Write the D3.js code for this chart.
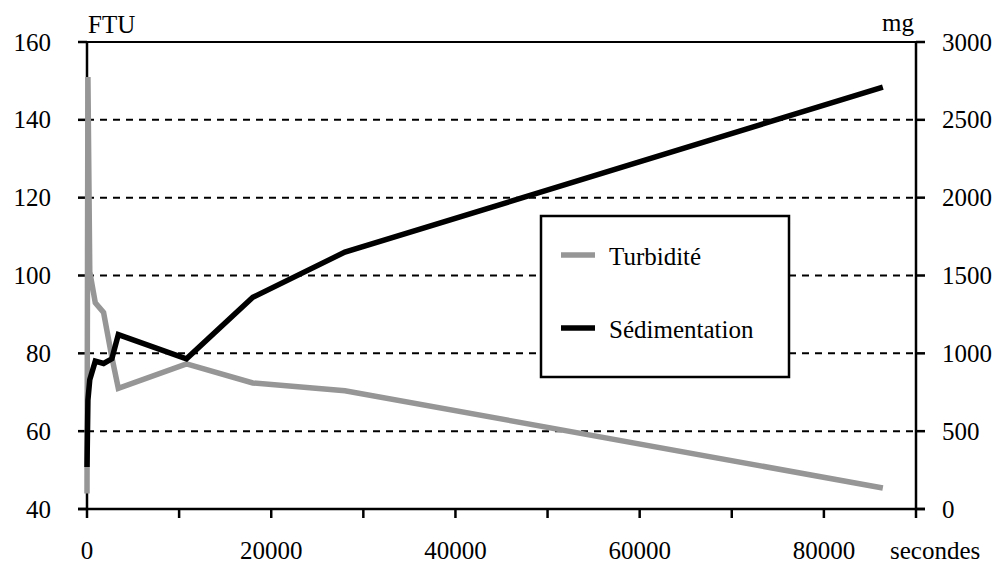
<!DOCTYPE html>
<html>
<head>
<meta charset="utf-8">
<script src="https://cdn.jsdelivr.net/npm/d3@7"></script>
<style>
  html, body { margin: 0; padding: 0; background: #fff; }
  svg { display: block; }
</style>
</head>
<body>
<svg id="chart" width="999" height="565"></svg>
<script>
// Time of each measurement (seconds)
const seconds = [0, 100, 300, 900, 1800, 2700, 3400, 10800, 18000, 28000, 86400];
// Turbidity (FTU, left axis)
const turbidite = [44, 151, 101, 93, 90.5, 79, 71, 77.3, 72.4, 70.4, 45.4];
// Cumulated sediment mass (mg, right axis)
const sedimentation = [270, 700, 830, 950, 935, 965, 1120, 965, 1360, 1650, 2710];

const xTicks = d3.range(0, 90001, 10000);
const xLabels = [0, 20000, 40000, 60000, 80000];
const leftTicks = [40, 60, 80, 100, 120, 140, 160];
const rightTicks = [0, 500, 1000, 1500, 2000, 2500, 3000];

const GRAY = "#969696";
const FONT = "'Liberation Serif', Tinos, 'Times New Roman', Times, 'DejaVu Serif', serif";
const svg = d3.select("#chart").attr("font-family", FONT);

const x = d3.scaleLinear().domain([0, 90000]).range([87, 916]);
const yL = d3.scaleLinear().domain([40, 160]).range([509, 42]);
const yR = d3.scaleLinear().domain([0, 3000]).range([509, 42]);

const fs = 25;

// dashed horizontal gridlines
svg.append("g").selectAll("line")
  .data(leftTicks.filter(v => v > 40 && v < 160))
  .join("line")
  .attr("x1", x(0)).attr("x2", x(90000))
  .attr("y1", d => yL(d)).attr("y2", d => yL(d))
  .attr("stroke", "#000").attr("stroke-width", 2)
  .attr("stroke-dasharray", "7,6");

// frame: top line, bottom axis, left and right axes
const frame = svg.append("g").attr("stroke", "#000").attr("stroke-width", 2.5);
frame.append("line").attr("x1", x(0) - 9).attr("x2", x(90000) + 9)
  .attr("y1", yL(160)).attr("y2", yL(160)).attr("stroke-width", 2);
frame.append("line").attr("x1", x(0) - 9).attr("x2", x(90000) + 9)
  .attr("y1", yL(40)).attr("y2", yL(40));
frame.append("line").attr("x1", x(0)).attr("x2", x(0))
  .attr("y1", yL(160)).attr("y2", yL(40));
frame.append("line").attr("x1", x(90000)).attr("x2", x(90000))
  .attr("y1", yL(160)).attr("y2", yL(40));

// left ticks and labels
frame.selectAll(".lt").data(leftTicks).join("line").attr("class", "lt")
  .attr("x1", x(0) - 9).attr("x2", x(0)).attr("y1", d => yL(d)).attr("y2", d => yL(d));
svg.append("g").selectAll("text").data(leftTicks).join("text")
  .attr("x", 51).attr("y", d => yL(d) + 8.5)
  .attr("text-anchor", "end").attr("font-size", fs)
  .text(d => d);

// right ticks and labels
frame.selectAll(".rt").data(rightTicks).join("line").attr("class", "rt")
  .attr("x1", x(90000)).attr("x2", x(90000) + 9).attr("y1", d => yR(d)).attr("y2", d => yR(d));
svg.append("g").selectAll("text").data(rightTicks).join("text")
  .attr("x", 942).attr("y", d => yR(d) + 8.5)
  .attr("text-anchor", "start").attr("font-size", fs)
  .text(d => d);

// bottom ticks and labels
frame.selectAll(".bt").data(xTicks).join("line").attr("class", "bt")
  .attr("x1", d => x(d)).attr("x2", d => x(d)).attr("y1", yL(40)).attr("y2", yL(40) + 9);
svg.append("g").selectAll("text").data(xLabels).join("text")
  .attr("x", d => x(d)).attr("y", 559)
  .attr("text-anchor", "middle").attr("font-size", fs)
  .text(d => d);
svg.append("text").attr("x", 890).attr("y", 559).attr("font-size", fs).text("secondes");

// unit labels
svg.append("text").attr("x", 88).attr("y", 33).attr("font-size", fs).text("FTU");
svg.append("text").attr("x", 914).attr("y", 31).attr("font-size", fs)
  .attr("text-anchor", "end").text("mg");

// series lines
const lineL = d3.line().x((d, i) => x(seconds[i])).y(d => yL(d));
const lineR = d3.line().x((d, i) => x(seconds[i])).y(d => yR(d));
svg.append("path").datum(turbidite).attr("d", lineL)
  .attr("fill", "none").attr("stroke", GRAY).attr("stroke-width", 5.5)
  .attr("stroke-linejoin", "miter");
svg.append("path").datum(sedimentation).attr("d", lineR)
  .attr("fill", "none").attr("stroke", "#000").attr("stroke-width", 5.5)
  .attr("stroke-linejoin", "miter");

// legend
const lg = svg.append("g");
lg.append("rect").attr("x", 541).attr("y", 216).attr("width", 248).attr("height", 161)
  .attr("fill", "#fff").attr("stroke", "#000").attr("stroke-width", 2.5);
const legendItems = [
  { name: "Turbidité", color: GRAY, y: 255 },
  { name: "Sédimentation", color: "#000", y: 328 }
];
legendItems.forEach(it => {
  lg.append("line").attr("x1", 561).attr("x2", 595).attr("y1", it.y).attr("y2", it.y)
    .attr("stroke", it.color).attr("stroke-width", 5.5);
  lg.append("text").attr("x", 609).attr("y", it.y + 10).attr("font-size", fs).text(it.name);
});
</script>
</body>
</html>
